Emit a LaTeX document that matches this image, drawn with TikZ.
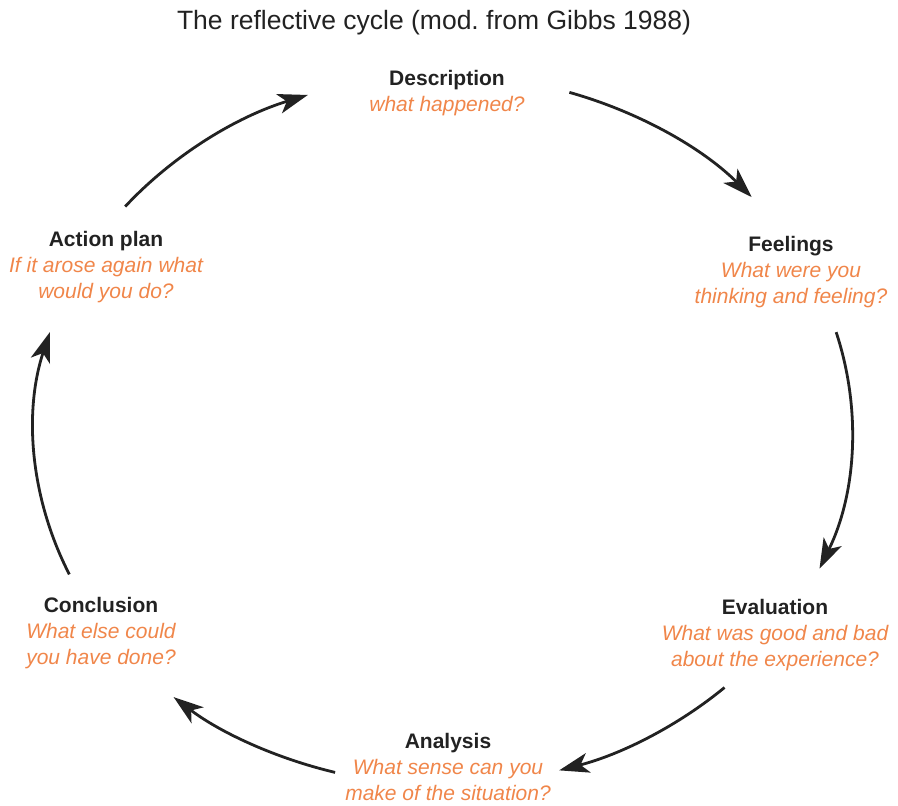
\documentclass[tikz,border=0pt]{standalone}
\usepackage{fontspec}
\setmainfont{Liberation Sans}
\usetikzlibrary{arrows.meta}
\definecolor{ink}{HTML}{222222}
\definecolor{prompt}{HTML}{F0864A}
\newcommand\prompttext[1]{{\color{prompt}\itshape #1}}
\begin{document}
\begin{tikzpicture}[x=1pt,y=1pt,
  stage/.style={anchor=base, inner sep=0pt, text=ink,
    font=\fontsize{21}{26.3}\selectfont},
  cyc/.style={line width=2.8pt, draw=ink,
    -{Stealth[length=30pt,width=20pt,inset=8pt]}}]
\useasboundingbox (0,0) rectangle (898,-806);

% heading
\node[anchor=base, inner sep=0pt, text=ink, font=\fontsize{26.5}{30}\selectfont]
  (title) at (434,-29) {The reflective cycle (mod.\ from Gibbs 1988)};

% the six stages
\node[stage] (desc) at (447,-85) {\begin{tabular}[t]{@{}c@{}}
  \bfseries Description\\ \prompttext{what happened?}\end{tabular}};
\node[stage] (feel) at (791,-251) {\begin{tabular}[t]{@{}c@{}}
  \bfseries Feelings\\ \prompttext{What were you}\\
  \prompttext{thinking and feeling?}\end{tabular}};
\node[stage] (eval) at (775,-614) {\begin{tabular}[t]{@{}c@{}}
  \bfseries Evaluation\\ \prompttext{What was good and bad}\\
  \prompttext{about the experience?}\end{tabular}};
\node[stage] (anal) at (448,-748) {\begin{tabular}[t]{@{}c@{}}
  \bfseries Analysis\\ \prompttext{What sense can you}\\
  \prompttext{make of the situation?}\end{tabular}};
\node[stage] (concl) at (101,-612) {\begin{tabular}[t]{@{}c@{}}
  \bfseries Conclusion\\ \prompttext{What else could}\\
  \prompttext{you have done?}\end{tabular}};
\node[stage] (act) at (106,-246) {\begin{tabular}[t]{@{}c@{}}
  \bfseries Action plan\\ \prompttext{If it arose again what}\\
  \prompttext{would you do?}\end{tabular}};

% the cycle: arcs of one ellipse
\coordinate (ctr) at (443,-430);
\path (ctr) ++(72:409pt and 355pt)     coordinate (desc-out);
\path (ctr) ++(16:409pt and 355pt)     coordinate (feel-out);
\path (ctr) ++(-46.5:409pt and 355pt)  coordinate (eval-out);
\path (ctr) ++(-105.3:409pt and 355pt) coordinate (anal-out);
\path (ctr) ++(204:409pt and 355pt)    coordinate (concl-out);
\path (ctr) ++(141:409pt and 355pt)    coordinate (act-out);

\draw[cyc] (desc-out)  arc[start angle=72,     end angle=41,     x radius=409pt, y radius=355pt];
\draw[cyc] (feel-out)  arc[start angle=16,     end angle=-23,    x radius=409pt, y radius=355pt];
\draw[cyc] (eval-out)  arc[start angle=-46.5,  end angle=-73.5,  x radius=409pt, y radius=355pt];
\draw[cyc] (anal-out)  arc[start angle=-105.3, end angle=-131.2, x radius=409pt, y radius=355pt];
\draw[cyc] (concl-out) arc[start angle=204,    end angle=164,    x radius=409pt, y radius=355pt];
\draw[cyc] (act-out)   arc[start angle=141,    end angle=109.3,  x radius=409pt, y radius=355pt];
\end{tikzpicture}
\end{document}
